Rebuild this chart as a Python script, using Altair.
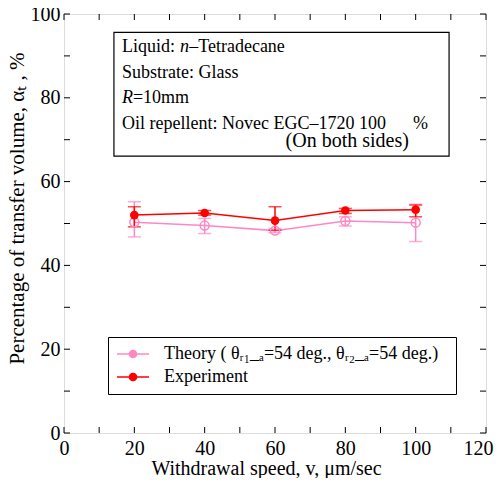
import altair as alt
import pandas as pd

# ---- data ----
speeds = [20, 40, 60, 80, 100]
series_names = ["Theory ( θᵣ₁_ₐ=54 deg.,   θᵣ₂_ₐ=54 deg.)", "Experiment"]
theory = [50.3, 49.5, 48.3, 50.6, 50.2]
theory_lo = [46.8, 47.6, 47.8, 49.4, 45.7]
theory_hi = [55.2, 51.2, 48.8, 51.6, 54.6]
exper = [52.0, 52.5, 50.7, 53.1, 53.3]
exper_lo = [49.2, 52.0, 48.4, 52.4, 51.6]
exper_hi = [54.0, 53.1, 54.0, 53.6, 54.4]

x_ticks = list(range(0, 121, 10))
y_ticks = list(range(0, 101, 10))
x_labels = [0, 20, 40, 60, 80, 100, 120]
y_labels = [0, 20, 40, 60, 80, 100]

rows = []
for i, s in enumerate(speeds):
    rows.append(dict(series=series_names[0], v=s, a=theory[i], lo=theory_lo[i], hi=theory_hi[i]))
    rows.append(dict(series=series_names[1], v=s, a=exper[i], lo=exper_lo[i], hi=exper_hi[i]))
df = pd.DataFrame(rows)

W, H = 422, 419
FONT = "Liberation Serif"
PINK = "#FF88C4"
RED = "#FF0000"

xs = alt.Scale(domain=[0, 120], nice=False, zero=False)
ys = alt.Scale(domain=[0, 100], nice=False, zero=False)

sym = ("M-2,0H-0.45M0.45,0H2"
       "M0.45,0A0.45,0.45 0 1 1 -0.45,0A0.45,0.45 0 1 1 0.45,0Z")

legend = alt.Legend(
    title=None, orient="none", legendX=44, legendY=323,
    symbolType=sym, symbolSize=256, symbolStrokeWidth=1.5,
    symbolOffset=8, labelOffset=22,
    labelFont=FONT, labelFontSize=18, labelColor="black",
    strokeColor="black", fillColor="white",
    padding=8, rowPadding=5, labelLimit=400,
    symbolOpacity=1,
    symbolFillColor=alt.ExprRef("datum.value === 'Experiment' ? '#FF0000' : 'transparent'"),
)
color = alt.Color("series:N",
                  scale=alt.Scale(domain=series_names, range=[PINK, RED]),
                  sort=series_names, legend=legend)

xenc = alt.X("v:Q", scale=xs,
             axis=alt.Axis(values=x_labels, title="Withdrawal speed,  v, μm/sec", ticks=False,
                           grid=False, domain=False, labelFont=FONT, labelFontSize=20,
                           labelColor="black", labelPadding=5, titleFont=FONT,
                           titleFontSize=20, titleFontWeight="normal", titleColor="black",
                           titlePadding=0, titleX=202, labelFlush=False,
                           labelAlign={"condition": {"test": "datum.value === 120", "value": "right"},
                                       "value": "center"},
                           labelOffset={"condition": {"test": "datum.value === 120", "value": 7},
                                        "value": 0}))
yenc = alt.Y("a:Q", scale=ys,
             axis=alt.Axis(values=y_labels, title="Percentage of transfer volume,  αₜ , %",
                           ticks=False, grid=False, domain=False, labelFont=FONT,
                           labelFontSize=20, labelColor="black", labelPadding=4,
                           titleFont=FONT, titleFontSize=21, titleFontWeight="normal",
                           titleColor="black", titlePadding=3, titleY=194, labelFlush=False))

base = alt.Chart(df)
err = base.mark_rule(strokeWidth=1.5).encode(
    x=alt.X("v:Q", scale=xs), y=alt.Y("lo:Q", scale=ys), y2="hi:Q", color=color)
cap_lo = base.mark_tick(orient="horizontal", size=13, thickness=1.5).encode(
    x=alt.X("v:Q", scale=xs), y=alt.Y("lo:Q", scale=ys), color=color)
cap_hi = base.mark_tick(orient="horizontal", size=13, thickness=1.5).encode(
    x=alt.X("v:Q", scale=xs), y=alt.Y("hi:Q", scale=ys), color=color)
line = base.mark_line(strokeWidth=1.5).encode(x=xenc, y=yenc, color=color)
pts_t = alt.Chart(df[df.series == series_names[0]]).mark_point(
    filled=False, opacity=1, size=80, strokeWidth=1.5).encode(
    x=alt.X("v:Q", scale=xs), y=alt.Y("a:Q", scale=ys), color=color)
pts_e = alt.Chart(df[df.series == series_names[1]]).mark_point(
    filled=True, opacity=1, size=75).encode(
    x=alt.X("v:Q", scale=xs), y=alt.Y("a:Q", scale=ys), color=color)

# inward tick marks on all four sides
xt = pd.DataFrame({"v": x_ticks})
yt = pd.DataFrame({"a": y_ticks})
tick_b = alt.Chart(xt).mark_rule(color="black", strokeWidth=1).encode(
    x=alt.X("v:Q", scale=xs), y=alt.value(H), y2=alt.value(H - 6))
tick_t = alt.Chart(xt).mark_rule(color="black", strokeWidth=1).encode(
    x=alt.X("v:Q", scale=xs), y=alt.value(0), y2=alt.value(6))
tick_l = alt.Chart(yt).mark_rule(color="black", strokeWidth=1).encode(
    y=alt.Y("a:Q", scale=ys), x=alt.value(0), x2=alt.value(6))
tick_r = alt.Chart(yt).mark_rule(color="black", strokeWidth=1).encode(
    y=alt.Y("a:Q", scale=ys), x=alt.value(W), x2=alt.value(W - 6))

# annotation box
box_df = pd.DataFrame({"x1": [14.2], "x2": [109.5], "y1": [95.6], "y2": [66.1]})
box = alt.Chart(box_df).mark_rect(fill="white", stroke="black", strokeWidth=1.2).encode(
    x=alt.X("x1:Q", scale=xs), x2="x2:Q", y=alt.Y("y1:Q", scale=ys), y2="y2:Q")

NB = "\u00a0"
note_df = pd.DataFrame({
    "x": [16.5, 33.0, 35.6, 16.5, 16.5, 19.6, 16.5],
    "y": [90.9, 90.9, 90.9, 84.7, 78.8, 78.8, 72.6],
    "t": ["Liquid:", "n", "–Tetradecane", "Substrate: Glass", "R", "=10mm",
          "Oil repellent: Novec EGC–1720 100" + NB * 6 + "%"],
    "st": ["normal", "italic", "normal", "normal", "italic", "normal", "normal"],
})
sub_df = pd.DataFrame({"x": [63.0], "y": [68.3], "t": ["(On both sides)"]})

notes_n = alt.Chart(note_df[note_df.st == "normal"]).mark_text(
    align="left", baseline="alphabetic", font=FONT, fontSize=18, color="black").encode(
    x=alt.X("x:Q", scale=xs), y=alt.Y("y:Q", scale=ys), text="t:N")
notes_i = alt.Chart(note_df[note_df.st == "italic"]).mark_text(
    align="left", baseline="alphabetic", font=FONT, fontSize=18, fontStyle="italic",
    color="black").encode(
    x=alt.X("x:Q", scale=xs), y=alt.Y("y:Q", scale=ys), text="t:N")
notes_s = alt.Chart(sub_df).mark_text(
    align="left", baseline="alphabetic", font=FONT, fontSize=20, color="black").encode(
    x=alt.X("x:Q", scale=xs), y=alt.Y("y:Q", scale=ys), text="t:N")

chart = alt.layer(
    line, box, notes_n, notes_i, notes_s, err, cap_lo, cap_hi, pts_t, pts_e,
    tick_b, tick_t, tick_l, tick_r
).properties(
    width=W, height=H,
    autosize=alt.AutoSizeParams(type="none"),
    padding={"left": 56, "top": 6, "right": 8, "bottom": 45},
).configure_view(stroke="black", strokeWidth=1.5).configure(background="white")

chart.save("out.html", embed_options={"renderer": "svg", "actions": False})
